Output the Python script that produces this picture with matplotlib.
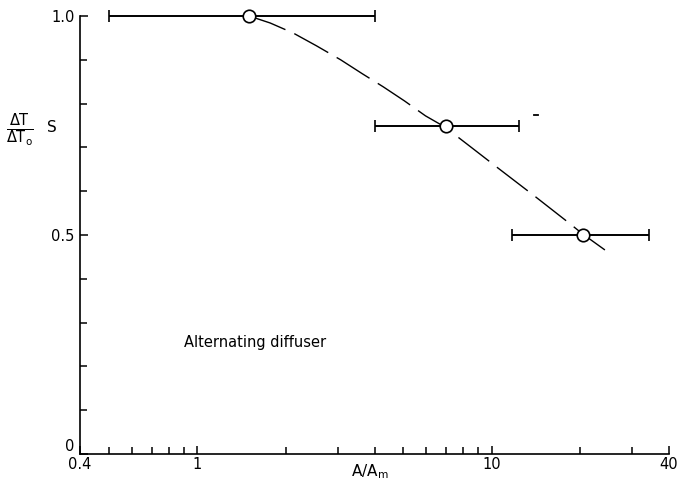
import numpy as np
import matplotlib.pyplot as plt
from matplotlib.ticker import FixedLocator, NullFormatter, FixedFormatter

plt.rcParams['font.family'] = ['DejaVu Sans']
plt.rcParams['mathtext.fontset'] = 'dejavusans'

# measured points with horizontal error range
area_ratio = [1.5, 7.0, 20.4]
area_lo = [0.5, 4.0, 11.7]
area_hi = [4.0, 12.4, 34.2]
temp_ratio = [1.0, 0.75, 0.5]

# dashed guide curve read along its length
curve_x = [1.50, 1.77, 2.12, 2.54, 3.07, 3.64, 4.29, 5.06, 5.96, 6.92,
           8.49, 10.5, 14.1, 18.1, 20.4, 25.4]
curve_y = [1.0, 0.984, 0.961, 0.932, 0.900, 0.868, 0.838, 0.806, 0.772, 0.747,
           0.701, 0.653, 0.587, 0.530, 0.502, 0.456]

fig = plt.figure(figsize=(6.78, 4.87), dpi=100)
ax = fig.add_axes([80/678, 33/487, 589/678, 438/487])

ax.plot(curve_x, curve_y, color='black', lw=1.0, linestyle=(0, (28, 7)))

xerr = [np.array(area_ratio) - np.array(area_lo), np.array(area_hi) - np.array(area_ratio)]
eb = ax.errorbar(area_ratio, temp_ratio, xerr=xerr, fmt='o', color='black', ecolor='black',
                 elinewidth=1.4, capsize=4, capthick=1.4, markersize=9,
                 markerfacecolor='white', markeredgecolor='black', markeredgewidth=1.2,
                 zorder=3)
for art in eb.lines[0:1] + tuple(eb.lines[1]) + tuple(eb.lines[2]):
    art.set_clip_on(False)

# small stray stroke to the right of the middle bar
ax.plot([13.9, 14.4], [0.774, 0.774], color='black', lw=1.3)

ax.set_xscale('log')
ax.set_xlim(0.4, 40)
ax.set_ylim(0, 1.0)

ax.spines['top'].set_visible(False)
ax.spines['right'].set_visible(False)
for s in ['left', 'bottom']:
    ax.spines[s].set_linewidth(1.2)

x_major = [0.4, 1, 10, 40]
x_labels = ['0.4', '1', '10', '40']
x_minor = [0.5, 0.6, 0.7, 0.8, 0.9, 2, 3, 4, 5, 6, 7, 8, 9, 20, 30]
ax.xaxis.set_major_locator(FixedLocator(x_major))
ax.xaxis.set_major_formatter(FixedFormatter(x_labels))
ax.xaxis.set_minor_locator(FixedLocator(x_minor))
ax.xaxis.set_minor_formatter(NullFormatter())

ax.yaxis.set_major_locator(FixedLocator([0, 0.5, 1.0]))
ax.yaxis.set_major_formatter(FixedFormatter(['0', '0.5', '1.0']))
ax.yaxis.set_minor_locator(FixedLocator([0.1, 0.2, 0.3, 0.4, 0.6, 0.7, 0.8, 0.9]))

ax.tick_params(which='both', direction='in', width=1.1, labelsize=10.5, colors='black')
ax.tick_params(which='major', length=6)
ax.tick_params(which='minor', length=5)
ax.tick_params(axis='x', pad=2)
ax.tick_params(axis='y', pad=4)

# lift the "0" so it sits above "0.4"
fig.canvas.draw()
ax.get_yticklabels()[0].set_verticalalignment('bottom')

fig.text(370/678, 1 - 472/487, r'A/A$_\mathrm{m}$', ha='center', va='center', fontsize=11)
fig.text(20/678, 1 - 130/487, r'$\frac{\mathrm{\Delta T}}{\mathrm{\Delta T_o}}$',
         ha='center', va='center', fontsize=15)
fig.text(52/678, 1 - 128/487, 'S', ha='center', va='center', fontsize=11)

ax.text(255/678, 1 - 343/487, 'Alternating diffuser', transform=fig.transFigure,
        ha='center', va='center', fontsize=10.5)

fig.savefig('out.png', dpi=100)
